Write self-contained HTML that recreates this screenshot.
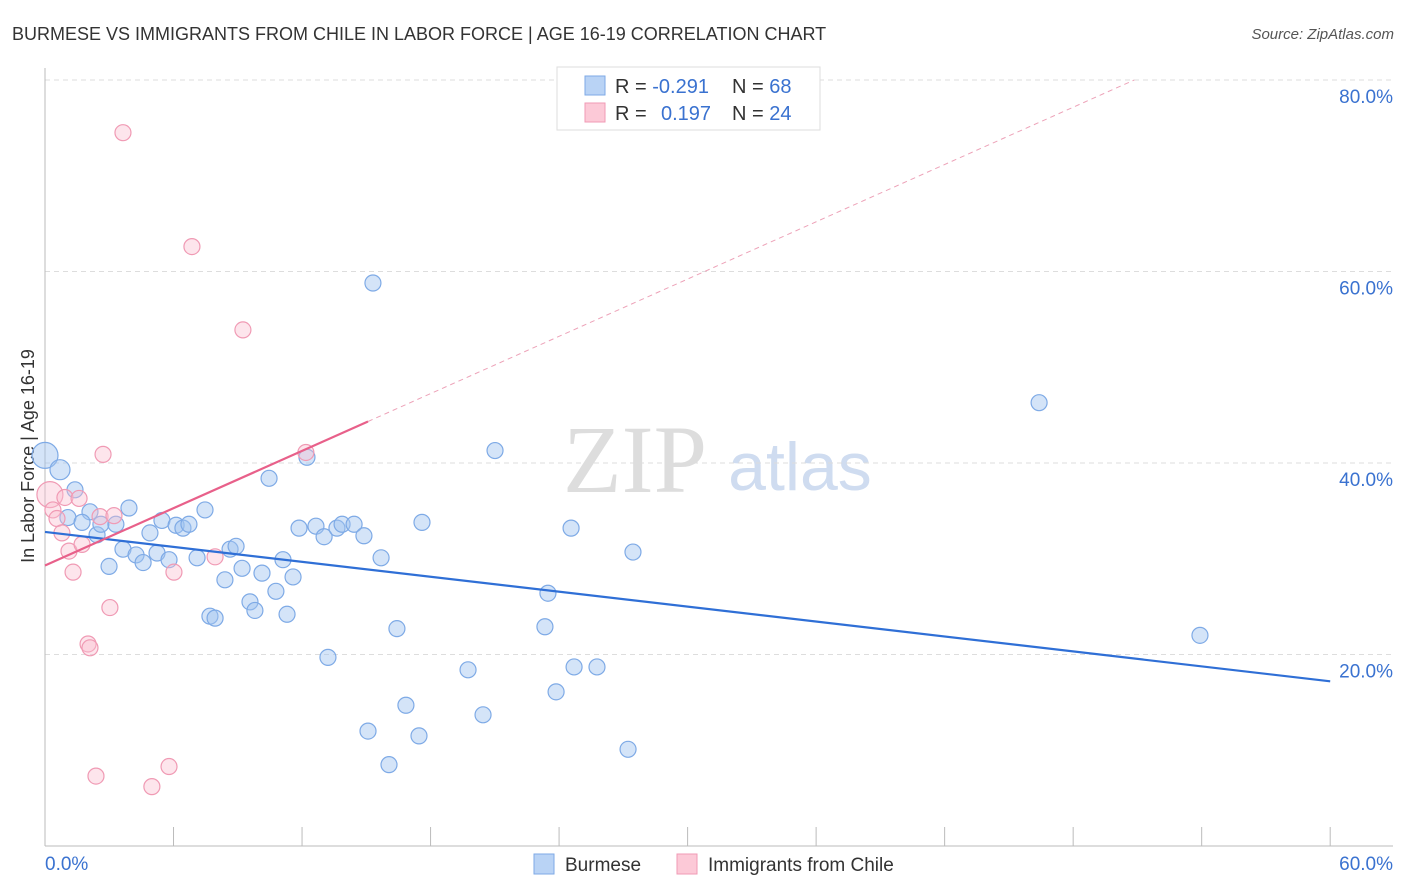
<!DOCTYPE html>
<html><head><meta charset="utf-8"><style>
body{margin:0;background:#fff;font-family:"Liberation Sans",sans-serif;}
svg{display:block}
</style></head><body>
<svg id="c" width="1406" height="892">
<text x="12" y="40" font-size="18" fill="#333">BURMESE VS IMMIGRANTS FROM CHILE IN LABOR FORCE | AGE 16-19 CORRELATION CHART</text>
<text x="1394" y="39" font-size="15" fill="#555" font-style="italic" text-anchor="end">Source: ZipAtlas.com</text>
<text x="635" y="492" font-size="96" fill="#ddd" font-family="Liberation Serif,serif" text-anchor="middle">ZIP</text>
<text x="800" y="490" font-size="68" fill="#cfdcf0" text-anchor="middle">atlas</text>
<text transform="translate(34,456) rotate(-90)" font-size="18" fill="#333" text-anchor="middle">In Labor Force | Age 16-19</text>
<g id="grid"></g><g id="marks"></g>
<g>
<rect x="557" y="67" width="263" height="63" fill="#fff" stroke="#ddd"/>
<rect x="585" y="76" width="20" height="19" fill="#b9d3f5" stroke="#7eaae6"/>
<rect x="585" y="103" width="20" height="19" fill="#fcc9d7" stroke="#f09ab4"/>
<text x="615" y="93" font-size="20" fill="#333">R = <tspan fill="#3a72d0">-0.291</tspan><tspan x="732">N = </tspan><tspan fill="#3a72d0">68</tspan></text>
<text x="615" y="120" font-size="20" fill="#333">R = <tspan x="661" fill="#3a72d0">0.197</tspan><tspan x="732">N = </tspan><tspan fill="#3a72d0">24</tspan></text>
</g>
<g>
<rect x="534" y="854" width="20" height="20" fill="#b9d3f5" stroke="#7eaae6"/>
<text x="565" y="871" font-size="19" fill="#333">Burmese</text>
<rect x="677" y="854" width="20" height="20" fill="#fcc9d7" stroke="#f09ab4"/>
<text x="708" y="871" font-size="19" fill="#333">Immigrants from Chile</text>
</g>
</svg>
<script>
const blueX=[0,0.7,1.4,1.07,2.1,1.73,2.43,2.61,3.31,3.92,2.99,3.64,4.25,4.58,4.9,5.23,5.46,5.79,6.12,6.44,6.72,7.1,7.47,7.7,7.94,8.4,8.64,8.92,9.2,9.57,9.8,10.13,10.46,10.78,11.3,11.11,11.58,11.86,12.23,12.65,13.03,13.21,13.63,13.87,14.43,14.89,15.08,15.31,15.69,16.06,16.43,16.85,17.46,17.6,19.75,20.45,21.01,23.34,23.48,23.86,24.56,24.7,25.77,27.22,27.45,46.41,53.92];
const blueY=[40.8,39.3,37.2,34.3,34.9,33.8,32.5,33.6,33.6,35.3,29.2,31.0,30.4,29.6,32.7,30.6,34.0,29.9,33.5,33.2,33.6,30.1,35.1,24.0,23.8,27.8,31.0,31.3,29.0,25.5,24.6,28.5,38.4,26.6,24.2,29.9,28.1,33.2,40.6,33.4,32.3,19.7,33.2,33.6,33.6,32.4,12.0,58.8,30.1,8.5,22.7,14.7,11.5,33.8,18.4,13.7,41.3,22.9,26.4,16.1,33.2,18.7,18.7,10.1,30.7,46.3,22.0];
const pinkX=[0.23,0.37,0.56,0.79,0.93,1.12,1.31,1.59,1.73,2.01,2.1,2.38,2.57,2.71,3.03,3.22,3.64,4.99,5.79,6.02,6.86,7.94,9.24,12.18];
const pinkY=[36.7,35.1,34.2,32.7,36.4,30.8,28.6,36.3,31.5,21.1,20.7,7.3,34.4,40.9,24.9,34.5,74.5,6.2,8.3,28.6,62.6,30.2,53.9,41.1];
const blueTrend=[32.8,17.2]; // y at x=0 and x=60
const pinkTrend=[29.3,0.997]; // intercept, slope
const yTicks=[20,40,60,80];
const xTicks=[0,6,12,18,24,30,36,42,48,54,60];
const X=v=>45+v*21.42, Y=v=>846-v*9.575;
const NS="http://www.w3.org/2000/svg";
function mk(t,a,p){const e=document.createElementNS(NS,t);for(const k in a)e.setAttribute(k,a[k]);p.appendChild(e);return e;}
const g=document.getElementById('grid'),m=document.getElementById('marks');
for(const t of yTicks){
 const l=mk('line',{x1:45,x2:1393,y1:Y(t),y2:Y(t),stroke:'#ddd','stroke-dasharray':'5,4'},g);
 
 
 const tx=mk('text',{x:1393,y:Y(t)+23,'font-size':19,fill:'#3a72d0','text-anchor':'end'},g);tx.textContent=t.toFixed(1)+'%';
 
 
}
const ax=mk('line',{x1:45,x2:45,y1:68,y2:846,stroke:'#bbb'},g);


const xa=mk('line',{x1:45,x2:1393,y1:846,y2:846,stroke:'#bbb'},g);


for(const t of xTicks){
 const l=mk('line',{x1:X(t),x2:X(t),y1:827,y2:846,stroke:'#bbb'},g);
 
 
}
[[0,'start'],[60,'end']].forEach(([t,a])=>{const tx=mk('text',{x:t?1393:45,y:870,'font-size':19,fill:'#3a72d0','text-anchor':a},g);tx.textContent=t.toFixed(1)+'%';
 
 });
blueX.forEach((x,i)=>{const r=i==0?13:(i==1?10:8);const c=mk('circle',{cx:X(x),cy:Y(blueY[i]),r:r,fill:'rgba(160,196,240,0.45)',stroke:'#7eaae6','stroke-width':1.2},m);
 
 });
pinkX.forEach((x,i)=>{const r=i==0?13:8;const c=mk('circle',{cx:X(x),cy:Y(pinkY[i]),r:r,fill:'rgba(250,190,208,0.4)',stroke:'#f09ab4','stroke-width':1.2},m);
 
 });
const bl=mk('line',{x1:X(0),y1:Y(blueTrend[0]),x2:X(60),y2:Y(blueTrend[1]),stroke:'#2f6fd6','stroke-width':2.2},m);


const pe=15.08, pd=(80-pinkTrend[0])/pinkTrend[1];
const pl=mk('line',{x1:X(0),y1:Y(pinkTrend[0]),x2:X(pe),y2:Y(pinkTrend[0]+pinkTrend[1]*pe),stroke:'#e8608a','stroke-width':2.2},m);


const pdl=mk('line',{x1:X(pe),y1:Y(pinkTrend[0]+pinkTrend[1]*pe),x2:X(pd),y2:Y(80),stroke:'#eda2b8','stroke-width':1,'stroke-dasharray':'5,4'},m);


</script>
</body></html>
